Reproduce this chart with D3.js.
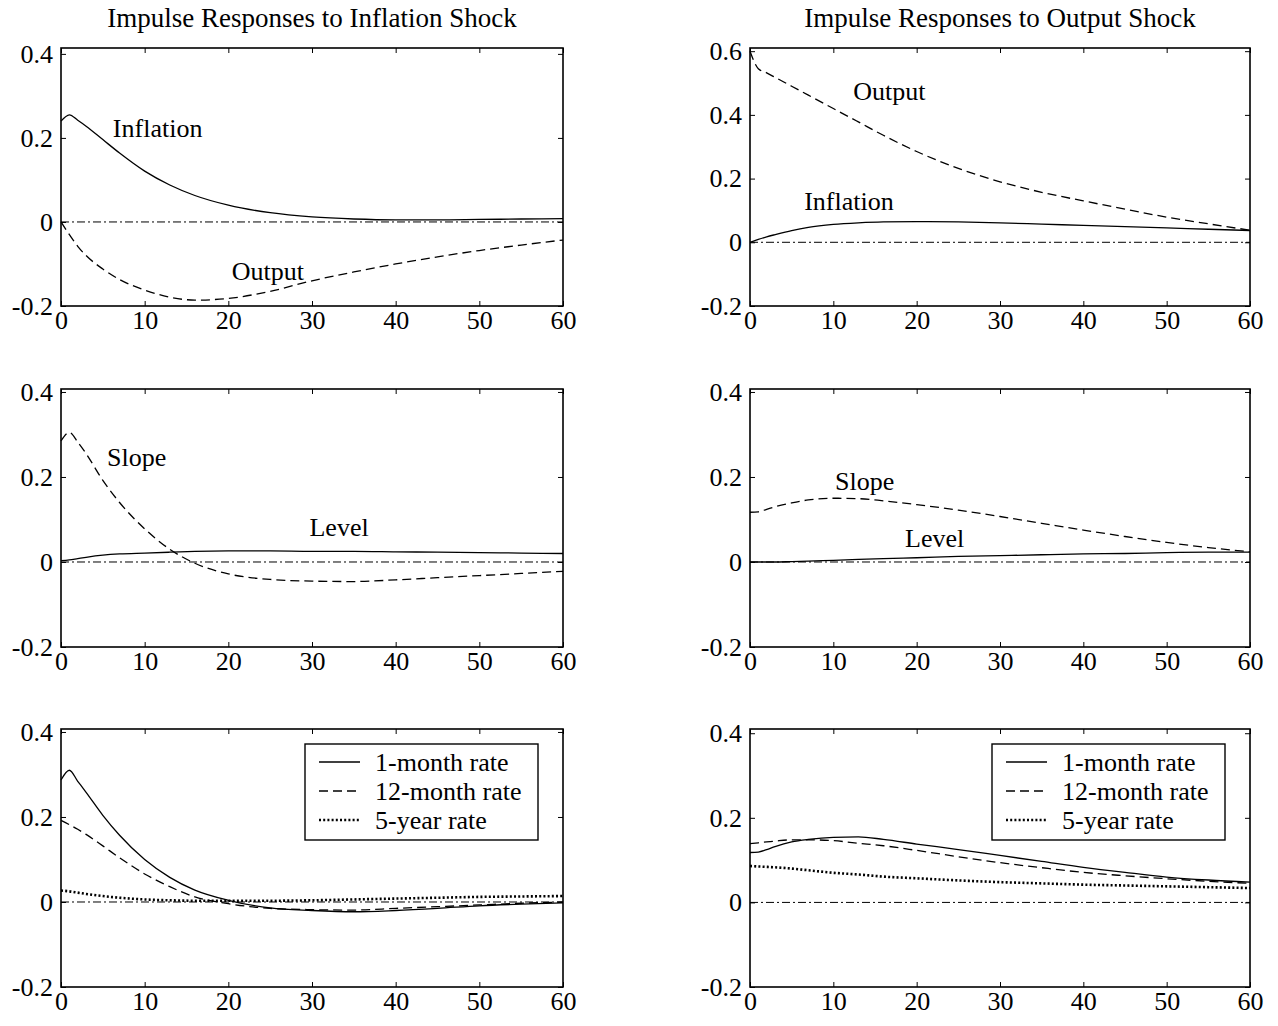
<!DOCTYPE html>
<html>
<head>
<meta charset="utf-8">
<script src="https://cdn.jsdelivr.net/npm/d3@7"></script>
<style>
  body { margin: 0; background: #fff; }
  svg { display: block; font-family: "Liberation Serif", "Times New Roman", serif; }
  .tick text { font-family: "Liberation Serif", "Times New Roman", serif; font-size: 26px; fill: #000; }
  .lbl { font-size: 26px; fill: #000; }
  .ttl { font-size: 27px; fill: #000; }
</style>
</head>
<body>
<div id="graf"></div>
<script>
// Data, months after shock
const months = [0, 1, 2, 3, 5, 7, 10, 13, 16, 20, 25, 30, 35, 40, 45, 50, 55, 60]

// inflation shock
const infInflation = [0.24, 0.255, 0.242, 0.228, 0.196, 0.164, 0.121, 0.088, 0.063, 0.04, 0.022, 0.012, 0.007, 0.005, 0.005, 0.006, 0.007, 0.008]
const infOutput = [0, -0.03, -0.058, -0.08, -0.112, -0.137, -0.162, -0.179, -0.186, -0.182, -0.165, -0.14, -0.119, -0.1, -0.083, -0.068, -0.055, -0.043]
const infSlope = [0.285, 0.305, 0.282, 0.255, 0.192, 0.14, 0.078, 0.03, -0.003, -0.028, -0.041, -0.045, -0.046, -0.042, -0.037, -0.032, -0.027, -0.022]
const infLevel = [0.003, 0.005, 0.008, 0.011, 0.016, 0.019, 0.021, 0.023, 0.025, 0.026, 0.026, 0.025, 0.025, 0.024, 0.023, 0.022, 0.021, 0.02]
const inf1m = [0.287, 0.31, 0.284, 0.258, 0.204, 0.157, 0.1, 0.058, 0.028, 0.004, -0.014, -0.02, -0.023, -0.02, -0.015, -0.009, -0.005, -0.002]
const inf12m = [0.192, 0.182, 0.171, 0.159, 0.132, 0.104, 0.066, 0.036, 0.012, -0.004, -0.015, -0.018, -0.019, -0.015, -0.011, -0.007, -0.003, 0]
const inf5y = [0.027, 0.025, 0.022, 0.019, 0.014, 0.01, 0.006, 0.004, 0.003, 0.003, 0.003, 0.004, 0.006, 0.008, 0.01, 0.012, 0.013, 0.014]

// output shock
const outOutput = [0.6, 0.545, 0.532, 0.518, 0.49, 0.462, 0.42, 0.378, 0.336, 0.285, 0.232, 0.19, 0.157, 0.13, 0.104, 0.079, 0.058, 0.038]
const outInflation = [0, 0.009, 0.017, 0.024, 0.037, 0.047, 0.056, 0.061, 0.064, 0.065, 0.064, 0.061, 0.057, 0.053, 0.049, 0.045, 0.041, 0.037]
const outSlope = [0.117, 0.118, 0.124, 0.13, 0.139, 0.146, 0.15, 0.149, 0.144, 0.135, 0.122, 0.107, 0.091, 0.075, 0.06, 0.046, 0.034, 0.024]
const outLevel = [0, 0, 0, 0, 0.001, 0.002, 0.004, 0.006, 0.008, 0.01, 0.013, 0.015, 0.017, 0.019, 0.02, 0.022, 0.023, 0.023]
const out1m = [0.118, 0.119, 0.125, 0.132, 0.143, 0.149, 0.154, 0.155, 0.149, 0.138, 0.125, 0.111, 0.097, 0.083, 0.071, 0.06, 0.053, 0.048]
const out12m = [0.139, 0.141, 0.143, 0.145, 0.148, 0.148, 0.146, 0.14, 0.134, 0.123, 0.108, 0.094, 0.082, 0.071, 0.063, 0.056, 0.05, 0.045]
const out5y = [0.086, 0.085, 0.084, 0.083, 0.08, 0.076, 0.07, 0.066, 0.061, 0.057, 0.052, 0.048, 0.045, 0.042, 0.04, 0.038, 0.036, 0.034]

const xTicks = [0, 10, 20, 30, 40, 50, 60]
const yTicks = [-0.2, 0, 0.2, 0.4]
const yTicksBig = [-0.2, 0, 0.2, 0.4, 0.6]
const titles = ["Impulse Responses to Inflation Shock", "Impulse Responses to Output Shock"]
const legendNames = ["1-month rate", "12-month rate", "5-year rate"]

// line styles
const estilo = {
  solid: { dash: null, w: 1.3 },
  dashed: { dash: "9,5", w: 1.3 },
  dotted: { dash: "2,2.2", w: 2.6 }
}

const anchoTotal = 1278
const altoTotal = 1026

const svg = d3.select("#graf")
  .append("svg")
  .attr("width", anchoTotal)
  .attr("height", altoTotal)

// panels: position + series + text labels
const cols = [61, 750]
const colW = [502, 500]
const rows = [48, 389, 729]
const alto = 258

const paneles = [
  { c: 0, r: 0, top: 0.414, yt: yTicks,
    series: [{ v: infInflation, s: "solid" }, { v: infOutput, s: "dashed" }],
    labels: [{ t: "Inflation", x: 6.2, y: 0.202 }, { t: "Output", x: 20.4, y: -0.137 }] },
  { c: 1, r: 0, top: 0.61, yt: yTicksBig,
    series: [{ v: outOutput, s: "dashed" }, { v: outInflation, s: "solid" }],
    labels: [{ t: "Output", x: 12.4, y: 0.448 }, { t: "Inflation", x: 6.5, y: 0.1 }] },
  { c: 0, r: 1, top: 0.407, yt: yTicks,
    series: [{ v: infSlope, s: "dashed" }, { v: infLevel, s: "solid" }],
    labels: [{ t: "Slope", x: 5.5, y: 0.225 }, { t: "Level", x: 29.7, y: 0.06 }] },
  { c: 1, r: 1, top: 0.407, yt: yTicks,
    series: [{ v: outSlope, s: "dashed" }, { v: outLevel, s: "solid" }],
    labels: [{ t: "Slope", x: 10.2, y: 0.169 }, { t: "Level", x: 18.6, y: 0.035 }] },
  { c: 0, r: 2, top: 0.407, yt: yTicks, legend: true,
    series: [{ v: inf1m, s: "solid" }, { v: inf12m, s: "dashed" }, { v: inf5y, s: "dotted" }],
    labels: [] },
  { c: 1, r: 2, top: 0.41, yt: yTicks, legend: true,
    series: [{ v: out1m, s: "solid" }, { v: out12m, s: "dashed" }, { v: out5y, s: "dotted" }],
    labels: [] }
]

paneles.forEach((p) => {
  const ancho = colW[p.c]
  const g = svg.append("g")
    .attr("transform", `translate(${cols[p.c]}, ${rows[p.r]})`)

  const x = d3.scaleLinear().domain([0, 60]).range([0, ancho])
  const y = d3.scaleLinear().domain([-0.2, p.top]).range([alto, 0])

  // zero line (dash-dot)
  g.append("line")
    .attr("x1", x(0)).attr("x2", x(60))
    .attr("y1", y(0)).attr("y2", y(0))
    .attr("stroke", "#000")
    .attr("stroke-width", 1)
    .attr("stroke-dasharray", "8,3,2,3")

  const linea = d3.line()
    .x((d, i) => x(months[i]))
    .y((d) => y(d))
    .curve(d3.curveMonotoneX)

  p.series.forEach((s) => {
    g.append("path")
      .datum(s.v)
      .attr("d", linea)
      .attr("fill", "none")
      .attr("stroke", "#000")
      .attr("stroke-width", estilo[s.s].w)
      .attr("stroke-dasharray", estilo[s.s].dash)
  })

  p.labels.forEach((l) => {
    g.append("text")
      .attr("class", "lbl")
      .attr("x", x(l.x))
      .attr("y", y(l.y))
      .text(l.t)
  })

  // Ejes (inward ticks on all sides)
  const fmt = (d) => (d === 0 ? "0" : String(d))
  const ejes = g.append("g").attr("class", "ejes")
  ejes.append("g")
    .attr("transform", `translate(0, ${alto})`)
    .call(d3.axisBottom(x).tickValues(xTicks).tickSizeInner(-5).tickSizeOuter(0).tickPadding(5))
  ejes.append("g")
    .call(d3.axisLeft(y).tickValues(p.yt).tickFormat(fmt).tickSizeInner(-5).tickSizeOuter(0).tickPadding(8))
  ejes.append("g")
    .call(d3.axisTop(x).tickValues(xTicks).tickSizeInner(-5).tickSizeOuter(0).tickFormat(""))
  ejes.append("g")
    .attr("transform", `translate(${ancho}, 0)`)
    .call(d3.axisRight(y).tickValues(p.yt).tickSizeInner(-5).tickSizeOuter(0).tickFormat(""))

  ejes.selectAll("g").attr("font-family", null).attr("font-size", null)
  ejes.selectAll(".domain").remove()
  ejes.selectAll(".tick line").attr("stroke", "#000").attr("stroke-width", 1)

  g.append("rect")
    .attr("width", ancho)
    .attr("height", alto)
    .attr("fill", "none")
    .attr("stroke", "#000")
    .attr("stroke-width", 1.6)

  if (p.legend) {
    const lw = 233, lh = 96
    const lg = g.append("g").attr("transform", `translate(${ancho - 25 - lw}, 15)`)
    lg.append("rect")
      .attr("width", lw).attr("height", lh)
      .attr("fill", "#fff").attr("stroke", "#000").attr("stroke-width", 1.4)
    legendNames.forEach((n, i) => {
      const yy = 18 + i * 29
      const st = estilo[p.series[i].s]
      lg.append("line")
        .attr("x1", 14).attr("x2", 55)
        .attr("y1", yy).attr("y2", yy)
        .attr("stroke", "#000")
        .attr("stroke-width", st.w)
        .attr("stroke-dasharray", st.dash)
      lg.append("text")
        .attr("class", "lbl")
        .attr("x", 70).attr("y", yy + 9)
        .text(n)
    })
  }
})

titles.forEach((t, i) => {
  svg.append("text")
    .attr("class", "ttl")
    .attr("x", cols[i] + colW[i] / 2)
    .attr("y", 27)
    .attr("text-anchor", "middle")
    .text(t)
})
</script>
</body>
</html>
